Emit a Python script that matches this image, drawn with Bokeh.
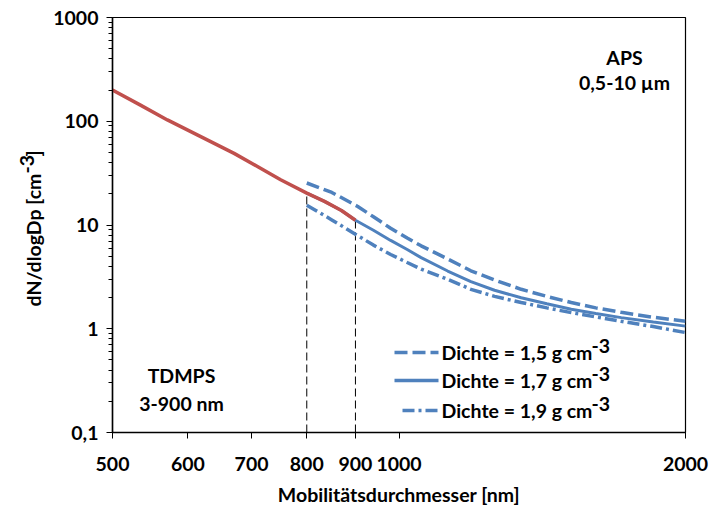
import math
from bokeh.plotting import figure
from bokeh.layouts import row
from bokeh.models import FixedTicker, CustomJSTickFormatter, Label, Arrow
from bokeh.embed import file_html
from bokeh.resources import INLINE

# ---- data ----
red_x = [500, 535, 571, 619, 671, 710, 751, 800, 835, 870, 900]
red_y = [200, 143, 103, 71, 49, 36.6, 27.3, 20.3, 16.9, 13.8, 11.1]

solid_x = [800, 835, 870, 900, 940, 980, 1020, 1055, 1125, 1190, 1260, 1344, 1430, 1517, 1610, 1712, 1850, 2000]
solid_y = [20.3, 16.9, 13.8, 11.1, 8.9, 7.1, 5.8, 4.85, 3.6, 2.85, 2.35, 1.99, 1.74, 1.54, 1.40, 1.28, 1.16, 1.06]

dashed_x = [800, 850, 905, 940, 980, 1020, 1055, 1125, 1190, 1260, 1344, 1430, 1517, 1610, 1712, 1850, 2000]
dashed_y = [25.4, 20.6, 15.1, 12.0, 9.3, 7.5, 6.3, 4.7, 3.62, 2.95, 2.40, 2.05, 1.79, 1.59, 1.44, 1.29, 1.18]

dashdot_x = [800, 850, 905, 940, 980, 1020, 1055, 1125, 1190, 1260, 1344, 1430, 1517, 1610, 1712, 1850, 2000]
dashdot_y = [15.5, 11.2, 7.9, 6.4, 5.2, 4.35, 3.75, 3.0, 2.40, 2.05, 1.79, 1.59, 1.43, 1.30, 1.18, 1.05, 0.92]

x_ticks = [500, 600, 700, 800, 900, 1000, 2000]
y_ticks = [0.1, 1, 10, 100, 1000]
boundaries = [800, 900]

legend_labels = ["Dichte = 1,5 g cm", "Dichte = 1,7 g cm", "Dichte = 1,9 g cm"]

RED = "#C0504D"
BLUE = "#4F81BD"
FONT = "Lato"
FS = "19.5px"

p = figure(width=667, height=508, x_axis_type="log", y_axis_type="log",
           x_range=(500, 2000), y_range=(0.1, 1000),
           output_backend="svg", toolbar_location=None,
           min_border_left=61, min_border_right=32, min_border_top=17, min_border_bottom=76)

p.grid.visible = False
p.outline_line_color = "black"
p.outline_line_width = 1.2
p.background_fill_color = "white"
p.border_fill_color = "white"

# axes
minor_y = [m * 10 ** e for e in range(-1, 3) for m in range(2, 10)]
p.yaxis.ticker = FixedTicker(ticks=y_ticks, minor_ticks=minor_y)
p.xaxis.ticker = FixedTicker(ticks=x_ticks, minor_ticks=[])
p.yaxis.formatter = CustomJSTickFormatter(
    code="return tick < 1 ? String(tick).replace('.', ',') : String(tick);")
p.xaxis.formatter = CustomJSTickFormatter(code="return String(tick);")
for ax in (p.xaxis[0], p.yaxis[0]):
    ax.axis_line_color = "black"
    ax.axis_line_width = 1.5
    ax.major_tick_line_color = "black"
    ax.minor_tick_line_color = "black"
    ax.major_tick_in = 0
    ax.minor_tick_in = 0
    ax.major_label_text_font = FONT
    ax.major_label_text_font_style = "bold"
    ax.major_label_text_font_size = FS
    ax.major_label_text_color = "black"
p.xaxis.major_tick_out = 6
p.xaxis.minor_tick_out = 0
p.yaxis.major_tick_out = 6
p.yaxis.minor_tick_out = 4
p.xaxis.major_label_standoff = 18
p.yaxis.major_label_standoff = 8
p.xaxis.axis_label = "Mobilitätsdurchmesser [nm]"
p.xaxis.axis_label_text_font = FONT
p.xaxis.axis_label_text_font_style = "bold"
p.xaxis.axis_label_text_font_size = FS
p.xaxis.axis_label_text_color = "black"
p.xaxis.axis_label_standoff = 9

# boundary dashed lines (to the red curve)
p.segment(x0=boundaries, y0=[y_ticks[0]] * 2, x1=boundaries,
          y1=[red_y[red_x.index(b)] for b in boundaries],
          line_color="black", line_width=1, line_dash="8 4")

# blue curves
p.line(dashed_x, dashed_y, line_color=BLUE, line_width=3.5, line_dash="13 5")
p.line(solid_x, solid_y, line_color=BLUE, line_width=3)
p.line(dashdot_x, dashdot_y, line_color=BLUE, line_width=3.5, line_dash="12 4 3 4")
# red curve
p.line(red_x, red_y, line_color=RED, line_width=3.5)


def lab(fig, text, x, y, align="left", angle=0.0):
    fig.add_layout(Label(x=x, y=y, x_units="screen", y_units="screen", text=text,
                         text_font=FONT, text_font_style="bold", text_font_size=FS,
                         text_color="black", text_align=align, text_baseline="middle",
                         angle=angle))


# legend (manual)
dashes = ["13 5", "solid", "12 4 3 4"]
rows_y = [80, 52, 22]
starts = [282, 282, 290]
for lbl, dash, ry, sx in zip(legend_labels, dashes, rows_y, starts):
    p.add_layout(Arrow(x_start=sx, y_start=ry, x_end=326, y_end=ry,
                       start_units="screen", end_units="screen", end=None,
                       line_color=BLUE, line_width=3.5, line_dash=dash))
    lab(p, lbl, 329, ry)
    lab(p, "-3", 479, ry + 7)

# annotations
lab(p, "TDMPS", 69, 57, align="center")
lab(p, "3-900 nm", 69, 29, align="center")
lab(p, "APS", 512, 375, align="center")
lab(p, "0,5-10 µm", 512, 350, align="center")

# y axis title in a narrow side figure (rotated text with superscript)
side = figure(width=50, height=508, x_range=(0, 1), y_range=(0, 1),
              x_axis_location=None, y_axis_location=None,
              min_border_left=0, min_border_right=0, min_border_top=0, min_border_bottom=0,
              output_backend="svg", toolbar_location=None)
side.grid.visible = False
side.outline_line_color = None
side.background_fill_color = "white"
side.border_fill_color = "white"
lab(side, "dN/dlogDp [cm", 33, 126, angle=math.pi / 2)
lab(side, "-3", 26, 259, angle=math.pi / 2)
lab(side, "]", 33, 276, angle=math.pi / 2)

layout = row(side, p, spacing=0)
open("out.html", "w").write(file_html(layout, INLINE))
